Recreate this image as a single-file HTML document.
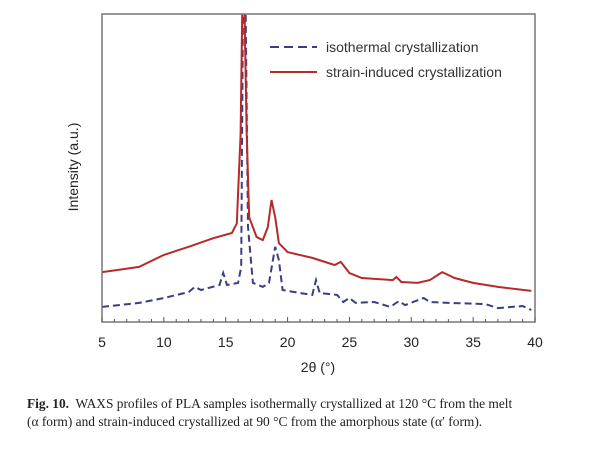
<!DOCTYPE html>
<html><head><meta charset="utf-8"><style>
body{margin:0;background:#fff;width:600px;height:453px;overflow:hidden}
svg{display:block}
.cap{position:absolute;left:27px;top:395px;font-family:"Liberation Serif",serif;font-size:13.4px;line-height:18px;color:#222;white-space:nowrap}
</style></head><body>
<svg id="c" width="600" height="453" style="position:absolute;left:0;top:0"></svg>
<div class="cap"><b>Fig. 10.</b>&nbsp; WAXS profiles of PLA samples isothermally crystallized at 120 °C from the melt<br>(α form) and strain-induced crystallized at 90 °C from the amorphous state (α′ form).</div>
<script>
const redX=[5,8,10,12,14,15.5,15.9,16.2,16.35,16.5,16.7,16.9,17.5,18.0,18.4,18.7,19.0,19.3,20,22,23.8,24.3,25,26,28.5,28.8,29.2,30.5,31.5,32.5,33.5,35,37,39.7];
const redY=[16.2,17.9,21.8,24.4,27.2,28.9,32,61,105,105,61,34,27.6,26.6,30.8,39.6,34,25.6,22.7,20.8,18.5,19.5,15.9,14.3,13.6,14.6,13,12.7,13.6,16.2,14.3,12.7,11.4,10.1];
const blueX=[5,8,10,12,12.5,13,14.5,14.8,15.1,16.0,16.25,16.4,16.6,16.8,17.2,18,18.5,19.0,19.3,19.6,21,22,22.3,22.6,24,24.5,25,25.5,27,28.3,29,29.5,31,31.5,33,36,37,39,39.7];
const blueY=[4.9,6.2,7.8,9.7,11.4,10.4,12,15.9,12,12.7,17.9,105,105,30.8,12.7,11.4,12.7,24.4,20.1,10.4,9.4,8.8,13.6,9.4,8.8,6.5,7.8,6.2,6.5,4.9,6.8,5.5,7.8,6.5,6.2,5.8,4.5,5.2,3.9];
const xTicks=[5,10,15,20,25,30,35,40];
const L=102,R=535,T=14,B=322;
const sx=v=>L+(v-5)/(35)*(R-L);
const sy=v=>B-v/100*(B-T);
const svg=document.getElementById('c');
const NS='http://www.w3.org/2000/svg';
function mk(t,a,p){const e=document.createElementNS(NS,t);for(const k in a)e.setAttribute(k,a[k]);(p||svg).appendChild(e);return e;}
const defs=mk('defs',{});const cp=mk('clipPath',{id:'pc'},defs);mk('rect',{x:L,y:T,width:R-L,height:B-T},cp);
const g=mk('g',{'clip-path':'url(#pc)'});
const bp=mk('path',{d:blueX.map((x,i)=>(i?'L':'M')+sx(x).toFixed(1)+','+sy(blueY[i]).toFixed(1)).join(''),fill:'none',stroke:'#3a3f80','stroke-width':2,'stroke-dasharray':'7,4'},g);


const rp=mk('path',{d:redX.map((x,i)=>(i?'L':'M')+sx(x).toFixed(1)+','+sy(redY[i]).toFixed(1)).join(''),fill:'none',stroke:'#b52a2a','stroke-width':2},g);


const fr=mk('rect',{x:L,y:T,width:R-L,height:B-T,fill:'none',stroke:'#777','stroke-width':1.5});


for(let v=5;v<=40;v++){mk('line',{x1:sx(v),x2:sx(v),y1:B,y2:B-(v%5?3:5),stroke:'#555','stroke-width':1});}
xTicks.forEach(v=>{const t=mk('text',{x:sx(v),y:347,'text-anchor':'middle','font-family':'Liberation Sans,sans-serif','font-size':14,fill:'#222'});t.textContent=v;

});
const xt=mk('text',{x:318,y:372,'text-anchor':'middle','font-family':'Liberation Sans,sans-serif','font-size':14,fill:'#222'});xt.textContent='2θ (°)';


const yt=mk('text',{x:0,y:0,transform:'translate(78,167) rotate(-90)','text-anchor':'middle','font-family':'Liberation Sans,sans-serif','font-size':14,fill:'#222'});yt.textContent='Intensity (a.u.)';


mk('line',{x1:270,x2:317,y1:47,y2:47,stroke:'#3a3f80','stroke-width':2,'stroke-dasharray':'9,5'});
mk('line',{x1:270,x2:317,y1:72,y2:72,stroke:'#b52a2a','stroke-width':2});
const l1=mk('text',{x:326,y:52,'font-family':'Liberation Sans,sans-serif','font-size':14,fill:'#333'});l1.textContent='isothermal crystallization';


const l2=mk('text',{x:326,y:77,'font-family':'Liberation Sans,sans-serif','font-size':14,fill:'#333'});l2.textContent='strain-induced crystallization';


</script>
</body></html>
